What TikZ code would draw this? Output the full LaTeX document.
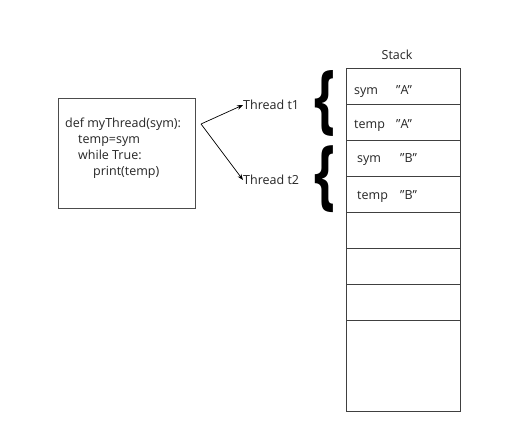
\documentclass[tikz,border=0pt]{standalone}
\usepackage{fontspec}
\usepackage{graphicx}
\setmainfont[Ligatures=NoCommon]{Open Sans}
\usetikzlibrary{arrows.meta}
\newcommand{\dq}{\char34\relax}
\begin{document}
\begin{tikzpicture}[x=1pt,y=-1pt,
  txt/.style={inner sep=0pt,font=\fontsize{12.5}{14}\selectfont,text=black!85},
  cell/.style={draw=black!75,line width=0.8pt},
  arr/.style={-{Stealth[length=6pt,width=4.5pt]},line width=0.7pt},
  brc/.style={inner sep=0pt}]
\useasboundingbox (0,0) rectangle (513,426);
\fill[white] (0,0) rectangle (513,426);
% code box
\node[draw=black!70,line width=0.7pt,minimum width=137pt,minimum height=110pt,anchor=north west] (code) at (58,98) {};
\node[txt,anchor=base west] (l1) at (65,127) {def myThread(sym):};
\node[txt,anchor=base west] (l2) at (78,143) {temp=sym};
\node[txt,anchor=base west] (l3) at (78,159) {while True:};
\node[txt,anchor=base west] (l4) at (93,175) {print(temp)};
% threads
\coordinate (fork) at (201,124);
\node[txt,anchor=west] (t1) at (243,105) {Thread t1};
\node[txt,anchor=west] (t2) at (243,180) {Thread t2};
\draw[arr] (fork) -- (t1.west);
\draw[arr] (fork) -- (t2.west);
% braces
\node[brc,anchor=east] (b1) at (336,103.5) {\resizebox*{21pt}{66pt}{\textbf{\{}}};
\node[brc,anchor=east] (b2) at (336,179) {\resizebox*{21pt}{67pt}{\textbf{\{}}};
% stack
\node[txt,anchor=base] (stk) at (397,59) {Stack};
\node[cell,anchor=north west,minimum width=114pt,minimum height=36pt] (c1) at (346,68) {};
\node[cell,anchor=north west,minimum width=114pt,minimum height=36pt] (c2) at (346,104) {};
\node[cell,anchor=north west,minimum width=114pt,minimum height=36pt] (c3) at (346,140) {};
\node[cell,anchor=north west,minimum width=114pt,minimum height=36pt] (c4) at (346,176) {};
\node[cell,anchor=north west,minimum width=114pt,minimum height=36pt] (c5) at (346,212) {};
\node[cell,anchor=north west,minimum width=114pt,minimum height=36pt] (c6) at (346,248) {};
\node[cell,anchor=north west,minimum width=114pt,minimum height=36pt] (c7) at (346,284) {};
\node[cell,anchor=north west,minimum width=114pt,minimum height=91pt] (c8) at (346,320) {};
\node[txt,anchor=base west] (s1) at (354,94) {sym};
\node[txt,anchor=base west] (v1) at (396,94) {\dq A\dq};
\node[txt,anchor=base west] (s2) at (354,128) {temp};
\node[txt,anchor=base west] (v2) at (396,128) {\dq A\dq};
\node[txt,anchor=base west] (s3) at (357,162) {sym};
\node[txt,anchor=base west] (v3) at (400,162) {\dq B\dq};
\node[txt,anchor=base west] (s4) at (357,199) {temp};
\node[txt,anchor=base west] (v4) at (400,199) {\dq B\dq};
\end{tikzpicture}
\end{document}
